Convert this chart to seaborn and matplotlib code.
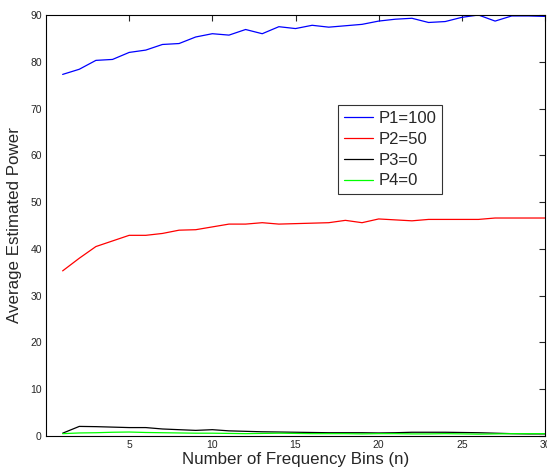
import numpy as np
import pandas as pd
import matplotlib
matplotlib.use("Agg")
import matplotlib.pyplot as plt
import seaborn as sns

bins = list(range(1, 31))
p1 = [77.3, 78.4, 80.3, 80.5, 82.0, 82.5, 83.7, 83.9, 85.3, 86.0,
      85.7, 86.9, 86.0, 87.5, 87.1, 87.8, 87.4, 87.7, 88.0, 88.7,
      89.1, 89.3, 88.4, 88.6, 89.5, 90.0, 88.7, 89.8, 89.8, 89.7]
p2 = [35.3, 38.0, 40.5, 41.7, 42.9, 42.9, 43.3, 44.0, 44.1, 44.7,
      45.3, 45.3, 45.6, 45.3, 45.4, 45.5, 45.6, 46.1, 45.6, 46.4,
      46.2, 46.0, 46.3, 46.3, 46.3, 46.3, 46.6, 46.6, 46.6, 46.6]
p3 = [0.6, 2.05, 2.0, 1.9, 1.8, 1.8, 1.5, 1.35, 1.2, 1.35,
      1.1, 1.0, 0.9, 0.85, 0.8, 0.75, 0.7, 0.7, 0.7, 0.65,
      0.7, 0.8, 0.8, 0.8, 0.75, 0.7, 0.6, 0.5, 0.45, 0.45]
p4 = [0.5, 0.65, 0.7, 0.8, 0.85, 0.75, 0.7, 0.65, 0.6, 0.6,
      0.55, 0.5, 0.55, 0.6, 0.55, 0.5, 0.5, 0.5, 0.45, 0.5,
      0.5, 0.45, 0.45, 0.5, 0.45, 0.4, 0.45, 0.5, 0.5, 0.5]
labels = ["P1=100", "P2=50", "P3=0", "P4=0"]
colors = ["#0000ff", "#ff0000", "#000000", "#00ff00"]

df = pd.DataFrame({
    "n": bins * 4,
    "power": p1 + p2 + p3 + p4,
    "series": [lab for lab in labels for _ in bins],
})

sns.set_style("white")
plt.rcParams["font.family"] = ["Liberation Sans", "DejaVu Sans"]

fig = plt.figure(figsize=(5.47, 4.70), dpi=100)
# axes box: left spine ~46px, right ~545px, top 15px, bottom 436px
ax = fig.add_axes([46 / 547, 1 - 436 / 470, (545 - 46) / 547, (436 - 15) / 470])

sns.lineplot(data=df, x="n", y="power", hue="series", hue_order=labels,
             palette=colors, linewidth=0.9, ax=ax)

ax.set_xlim(0, 30)
ax.set_ylim(0, 90)
ax.set_xticks([5, 10, 15, 20, 25, 30])
ax.set_yticks(range(0, 91, 10))
ax.tick_params(direction="in", length=4, width=0.8, labelsize=7.5,
               top=True, right=True, pad=3)
for sp in ax.spines.values():
    sp.set_linewidth(0.8)
    sp.set_color("black")

ax.set_xlabel("Number of Frequency Bins (n)", fontsize=12.2, labelpad=1)
ax.set_ylabel("Average Estimated Power", fontsize=12.2, labelpad=6)

leg = ax.legend(loc="upper left", bbox_to_anchor=(0.585, 0.786), fontsize=12,
                frameon=True, fancybox=False, edgecolor="black",
                handlelength=1.75, handletextpad=0.35, borderpad=0.35,
                labelspacing=0.35, borderaxespad=0)
leg.get_frame().set_linewidth(0.8)

fig.savefig("out.png", dpi=100)
